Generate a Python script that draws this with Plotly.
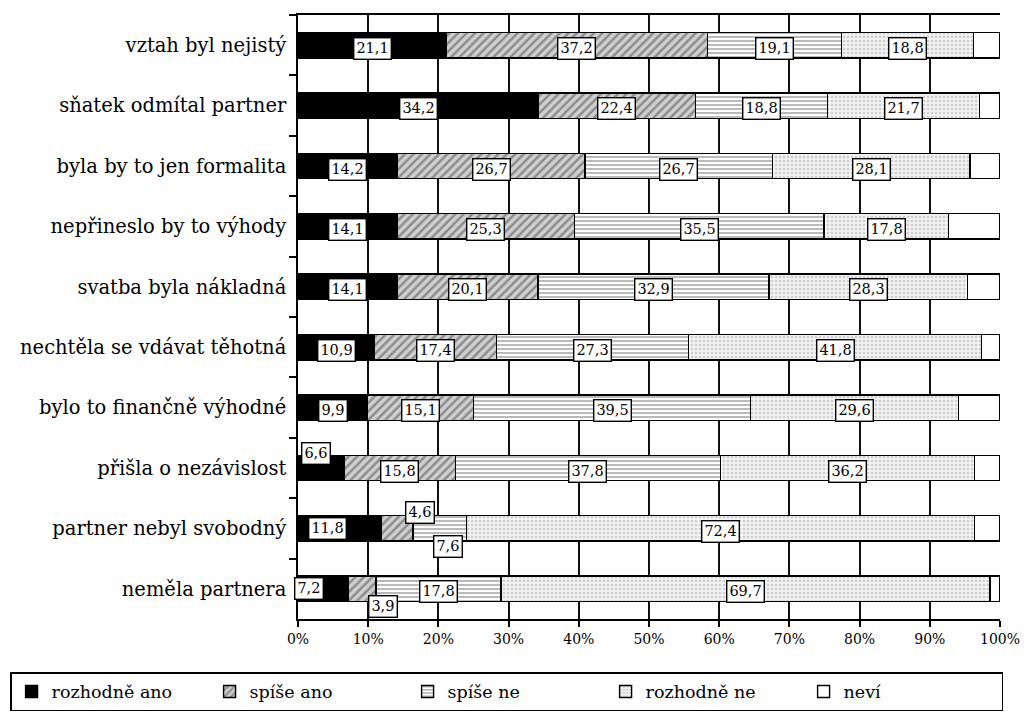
import plotly.graph_objects as go

categories = [
    "vztah byl nejistý",
    "sňatek odmítal partner",
    "byla by to jen formalita",
    "nepřineslo by to výhody",
    "svatba byla nákladná",
    "nechtěla se vdávat těhotná",
    "bylo to finančně výhodné",
    "přišla o nezávislost",
    "partner nebyl svobodný",
    "neměla partnera",
]

rozhodne_ano = [21.1, 34.2, 14.2, 14.1, 14.1, 10.9, 9.9, 6.6, 11.8, 7.2]
spise_ano = [37.2, 22.4, 26.7, 25.3, 20.1, 17.4, 15.1, 15.8, 4.6, 3.9]
spise_ne = [19.1, 18.8, 26.7, 35.5, 32.9, 27.3, 39.5, 37.8, 7.6, 17.8]
rozhodne_ne = [18.8, 21.7, 28.1, 17.8, 28.3, 41.8, 29.6, 36.2, 72.4, 69.7]
nevi = [3.8, 2.9, 4.3, 7.3, 4.6, 2.6, 5.9, 3.6, 3.6, 1.4]

series_names = ["rozhodně ano", "spíše ano", "spíše ne", "rozhodně ne", "neví"]
series_values = [rozhodne_ano, spise_ano, spise_ne, rozhodne_ne, nevi]

FONT = "DejaVu Serif"

styles = [
    dict(color="black", pattern=None),
    dict(color="#8a8a8a", pattern=dict(shape="/", fgcolor="#444444", bgcolor="#cfcfcf", size=6, solidity=0.4)),
    dict(color="#bbbbbb", pattern=dict(shape="-", fgcolor="#666666", bgcolor="#ffffff", size=4, solidity=0.45)),
    dict(color="#eeeeee", pattern=dict(shape=".", fgcolor="#a8a8a8", bgcolor="#f2f2f2", size=4, solidity=0.3)),
    dict(color="white", pattern=None),
]

fig = go.Figure()
for name, vals, st in zip(series_names, series_values, styles):
    marker = dict(color=st["color"], line=dict(color="black", width=1.4))
    if st["pattern"]:
        marker["pattern"] = st["pattern"]
    fig.add_trace(go.Bar(
        y=categories, x=vals, name=name, orientation="h",
        marker=marker, hoverinfo="skip",
    ))

# label offsets in pixels (series index, row index) -> (xshift, yshift)
offsets = {
    (0, 7): (-5, 15),
    (0, 8): (-12, 0),
    (1, 8): (23, 16),
    (2, 8): (8, -18),
    (0, 9): (-14, 0),
    (1, 9): (21, -18),
}

for r, cat in enumerate(categories):
    cum = 0.0
    for s in range(4):
        v = series_values[s][r]
        center = cum + v / 2
        cum += v
        dx, dy = offsets.get((s, r), (0, -3))
        fig.add_annotation(
            x=center, y=cat, xref="x", yref="y",
            text=f"{v:.1f}".replace(".", ","),
            showarrow=False, xshift=dx, yshift=dy,
            bgcolor="white", bordercolor="black", borderwidth=1.4, borderpad=2,
            font=dict(family=FONT, size=14.5, color="black"),
        )

fig.update_layout(
    width=1027, height=725,
    barmode="stack", bargap=0.58,
    margin=dict(l=298, r=27, t=15, b=106, autoexpand=False),
    plot_bgcolor="white", paper_bgcolor="white",
    font=dict(family=FONT, size=14, color="black"),
    showlegend=True,
    legend=dict(
        orientation="h", x=-0.41, xanchor="left", y=-0.088, yanchor="top",
        bordercolor="black", borderwidth=1.4, bgcolor="white",
        font=dict(family=FONT, size=17.5, color="black"),
        entrywidth=153, entrywidthmode="pixels", traceorder="normal",
        itemwidth=30, tracegroupgap=0,
    ),
)
fig.update_xaxes(
    range=[0, 100], dtick=10, ticksuffix="%", automargin=False,
    showgrid=True, gridcolor="#111111", gridwidth=1.6,
    showline=True, linecolor="black", linewidth=1.6, mirror=True,
    ticks="outside", ticklen=6, tickcolor="black", tickwidth=1.6,
    tickfont=dict(family=FONT, size=14), zeroline=False,
)
fig.update_yaxes(
    autorange="reversed", tickson="boundaries", automargin=False,
    showline=True, linecolor="black", linewidth=1.6,
    ticks="outside", ticklen=7, tickcolor="black", tickwidth=1.6,
    tickfont=dict(family=FONT, size=19.5), showgrid=False,
    ticklabelstandoff=6,
)

fig.write_html("out.html", config={"displayModeBar": False},
               post_script="document.body.style.margin='0';")
